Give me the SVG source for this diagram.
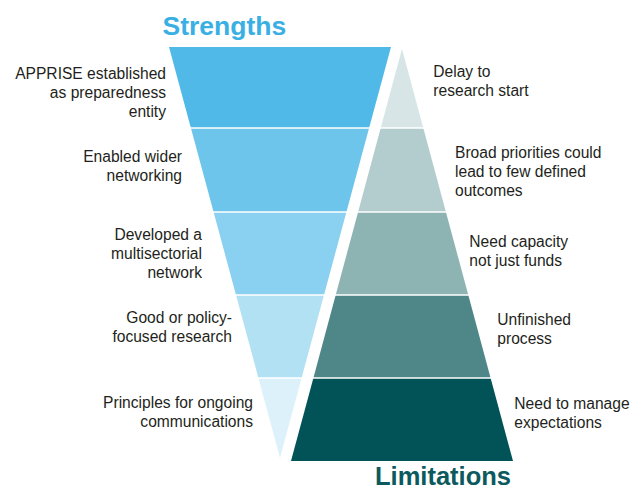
<svg xmlns="http://www.w3.org/2000/svg" width="631" height="490" viewBox="0 0 631 490">
  <style>
    .lbl { font-family: "Liberation Sans", Arial, sans-serif; font-size: 15.6px; fill: #231F20; }
    .l { text-anchor: end; }
    .r { text-anchor: start; }
    .title { font-family: "Liberation Sans", Arial, sans-serif; font-weight: bold; }
    .sep { stroke: #FFFFFF; stroke-width: 1.4; }
  </style>
  <rect width="631" height="490" fill="#FFFFFF"/>

  <g id="title-strengths">
    <text class="title" x="162.5" y="34.5" font-size="26.5" fill="#3AAFE3">Strengths</text>
  </g>
  <g id="title-limitations">
    <text class="title" x="375" y="484.5" font-size="25.5" fill="#0C5A5E">Limitations</text>
  </g>

  <!-- Strengths (inverted triangle) -->
  <g id="strength-1">
    <polygon points="169,47 391,47 369.1,128 190.9,128" fill="#50B9E8"/>
    <text class="lbl l" x="166"><tspan x="166" y="79.3">APPRISE established</tspan><tspan x="166" y="98.3">as preparedness</tspan><tspan x="166" y="117">entity</tspan></text>
  </g>
  <g id="strength-2">
    <polygon points="190.9,128 369.1,128 346.4,212 213.6,212" fill="#6DC5EB"/>
    <text class="lbl l" x="182"><tspan x="182" y="162.3">Enabled wider</tspan><tspan x="182" y="181.3">networking</tspan></text>
  </g>
  <g id="strength-3">
    <polygon points="213.6,212 346.4,212 324,295 236,295" fill="#8AD0F0"/>
    <text class="lbl l" x="202"><tspan x="202" y="240.3">Developed a</tspan><tspan x="202" y="259.3">multisectorial</tspan><tspan x="202" y="278.3">network</tspan></text>
  </g>
  <g id="strength-4">
    <polygon points="236,295 324,295 301.6,378 258.4,378" fill="#B2E1F4"/>
    <text class="lbl l" x="232"><tspan x="232" y="323.3">Good or policy-</tspan><tspan x="232" y="342.3">focused research</tspan></text>
  </g>
  <g id="strength-5">
    <polygon points="258.4,378 301.6,378 280,458" fill="#DDF1FA"/>
    <text class="lbl l" x="253"><tspan x="253" y="407.5">Principles for ongoing</tspan><tspan x="253" y="426.5">communications</tspan></text>
  </g>

  <!-- Limitations (pyramid) -->
  <g id="limitation-1">
    <polygon points="402,49 423.3,128 380.7,128" fill="#D8E5E6"/>
    <text class="lbl r" x="433.3"><tspan x="433.3" y="76.7">Delay to</tspan><tspan x="433.3" y="95.7">research start</tspan></text>
  </g>
  <g id="limitation-2">
    <polygon points="380.7,128 423.3,128 445.9,212 358.1,212" fill="#B3CCCE"/>
    <text class="lbl r" x="455"><tspan x="455" y="157.5">Broad priorities could</tspan><tspan x="455" y="176.5">lead to few defined</tspan><tspan x="455" y="195.5">outcomes</tspan></text>
  </g>
  <g id="limitation-3">
    <polygon points="358.1,212 445.9,212 468.3,295 335.7,295" fill="#8DB3B3"/>
    <text class="lbl r" x="469.3"><tspan x="469.3" y="246.5">Need capacity</tspan><tspan x="469.3" y="265.5">not just funds</tspan></text>
  </g>
  <g id="limitation-4">
    <polygon points="335.7,295 468.3,295 490.6,378 313.4,378" fill="#4F8789"/>
    <text class="lbl r" x="497.3"><tspan x="497.3" y="325">Unfinished</tspan><tspan x="497.3" y="344">process</tspan></text>
  </g>
  <g id="limitation-5">
    <polygon points="313.4,378 490.6,378 513,461 291,461" fill="#015358"/>
    <text class="lbl r" x="514.3"><tspan x="514.3" y="409.3">Need to manage</tspan><tspan x="514.3" y="428.3">expectations</tspan></text>
  </g>

  <g id="band-separators">
    <line class="sep" x1="185" y1="128" x2="430" y2="128"/>
    <line class="sep" x1="208" y1="212" x2="452" y2="212"/>
    <line class="sep" x1="230" y1="295" x2="475" y2="295"/>
    <line class="sep" x1="252" y1="378" x2="497" y2="378"/>
  </g>
</svg>
